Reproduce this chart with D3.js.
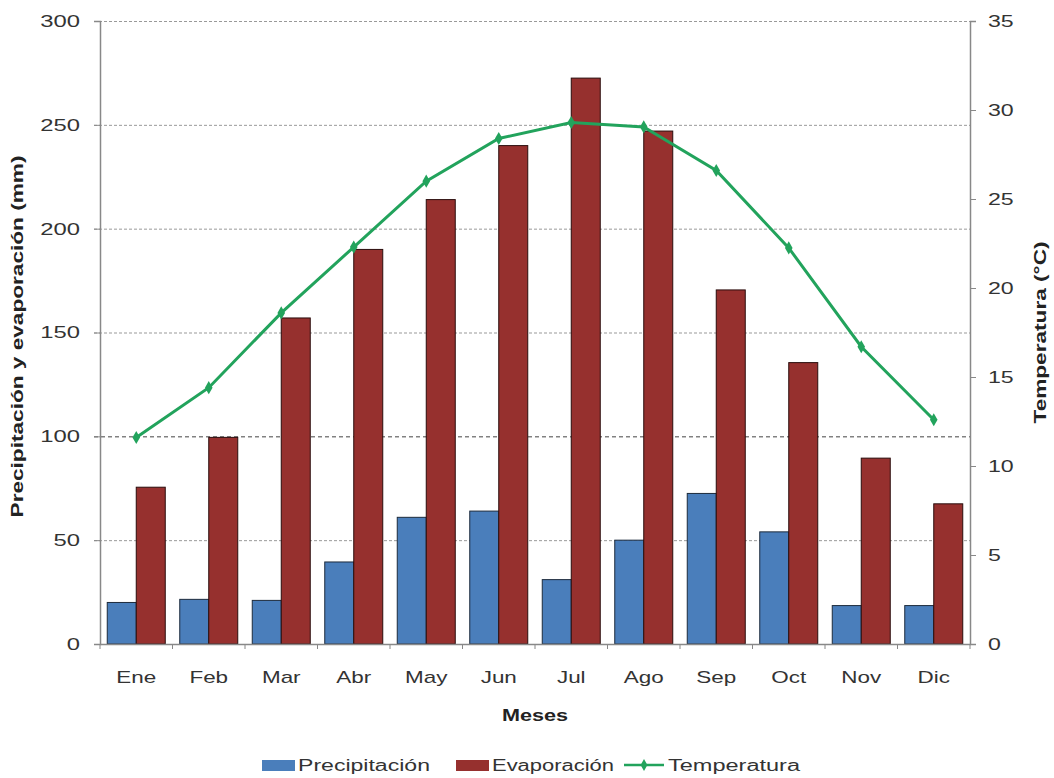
<!DOCTYPE html>
<html>
<head>
<meta charset="utf-8">
<script src="https://cdn.jsdelivr.net/npm/d3@7"></script>
<style>
  html, body { margin: 0; padding: 0; background: #fff; }
  svg { display: block; font-family: "Liberation Sans", Arial, sans-serif; }
</style>
</head>
<body>
<svg id="chart" width="1054" height="778"></svg>
<script>
// Monthly climate data
const months = ["Ene", "Feb", "Mar", "Abr", "May", "Jun", "Jul", "Ago", "Sep", "Oct", "Nov", "Dic"];
const precipitacion = [20, 21.5, 21, 39.5, 61, 64, 31, 50, 72.5, 54, 18.5, 18.5];
const evaporacion = [75.5, 99.5, 157, 190, 214, 240, 272.5, 247, 170.5, 135.5, 89.5, 67.5];
const temperatura = [11.6, 14.4, 18.6, 22.3, 26.0, 28.4, 29.3, 29.05, 26.6, 22.25, 16.7, 12.6];
const leftTicks = [0, 50, 100, 150, 200, 250, 300];
const rightTicks = [0, 5, 10, 15, 20, 25, 30, 35];

const svg = d3.select("#chart");
const plot = { left: 100, right: 970, top: 21, bottom: 644 };

const x = d3.scaleBand().domain(months).range([plot.left, plot.right]).paddingInner(0).paddingOuter(0);
const yL = d3.scaleLinear().domain([0, 300]).range([plot.bottom, plot.top]);
const yR = d3.scaleLinear().domain([0, 35]).range([plot.bottom, plot.top]);

const colPrec = "#4a7ebb";
const colEvap = "#96302e";
const colTemp = "#22a35c";
const textCol = "#333";

// Widen a text element horizontally (the chart uses a wide lettering)
function widen(sel, factor) {
  sel.each(function () {
    const len = this.getComputedTextLength();
    d3.select(this).attr("textLength", len * factor).attr("lengthAdjust", "spacingAndGlyphs");
  });
}

// Horizontal gridlines from the left axis
svg.append("g").selectAll("line")
  .data(leftTicks.filter(d => d > 0))
  .join("line")
  .attr("x1", plot.left - 6).attr("x2", plot.right)
  .attr("y1", d => yL(d) + 0.5).attr("y2", d => yL(d) + 0.5)
  .attr("stroke", d => d === 100 ? "#444" : "#999")
  .attr("stroke-width", 1)
  .attr("stroke-dasharray", d => d === 100 ? "4,3" : "3,2");

// Bars
const inner = d3.scaleBand().domain(["p", "e"]).range([0, x.bandwidth()]).paddingInner(0).paddingOuter(0.25);
const groups = svg.append("g").selectAll("g")
  .data(months.map((m, i) => ({ m, p: precipitacion[i], e: evaporacion[i] })))
  .join("g")
  .attr("transform", d => `translate(${x(d.m)},0)`);

groups.append("rect")
  .attr("x", inner("p")).attr("width", inner.bandwidth())
  .attr("y", d => yL(d.p)).attr("height", d => yL(0) - yL(d.p))
  .attr("fill", colPrec).attr("stroke", "#1d2b3c").attr("stroke-width", 1);

groups.append("rect")
  .attr("x", inner("e")).attr("width", inner.bandwidth())
  .attr("y", d => yL(d.e)).attr("height", d => yL(0) - yL(d.e))
  .attr("fill", colEvap).attr("stroke", "#2a0d0d").attr("stroke-width", 1);

// Axes
const axisCol = "#888";
const gL = svg.append("g").attr("transform", `translate(${plot.left},0)`)
  .call(d3.axisLeft(yL).tickValues(leftTicks).tickSize(6).tickPadding(14));
const gR = svg.append("g").attr("transform", `translate(${plot.right},0)`)
  .call(d3.axisRight(yR).tickValues(rightTicks).tickSize(6).tickPadding(12));
const gB = svg.append("g").attr("transform", `translate(0,${plot.bottom})`)
  .call(d3.axisBottom(x).tickSize(0).tickPadding(27));

[gL, gR, gB].forEach(g => {
  g.select(".domain").attr("stroke", axisCol).attr("stroke-width", 1.5);
  g.selectAll(".tick line").attr("stroke", axisCol);
  g.selectAll(".tick text").attr("fill", textCol).style("font-size", "17px");
});
gL.selectAll(".tick text").call(widen, 1.4);
gR.selectAll(".tick text").call(widen, 1.36);
gB.selectAll(".tick text").call(widen, 1.32);

// Category separator ticks on the x axis
svg.append("g").selectAll("line")
  .data(d3.range(months.length + 1))
  .join("line")
  .attr("x1", i => plot.left + i * x.step()).attr("x2", i => plot.left + i * x.step())
  .attr("y1", plot.bottom).attr("y2", plot.bottom + 5)
  .attr("stroke", axisCol);

// Temperature line with markers
const line = d3.line()
  .x((d, i) => x(months[i]) + x.bandwidth() / 2)
  .y(d => yR(d));

svg.append("path")
  .datum(temperatura)
  .attr("d", line)
  .attr("fill", "none")
  .attr("stroke", colTemp)
  .attr("stroke-width", 3);

const diamond = d3.symbol().type(d3.symbolDiamond).size(50);
svg.append("g").selectAll("path")
  .data(temperatura)
  .join("path")
  .attr("d", diamond)
  .attr("transform", (d, i) => `translate(${x(months[i]) + x.bandwidth() / 2},${yR(d)})`)
  .attr("fill", colTemp);

// Axis titles
svg.append("text")
  .attr("transform", `translate(23,${(plot.top + plot.bottom) / 2 + 4}) rotate(-90)`)
  .attr("text-anchor", "middle")
  .attr("font-weight", "bold").attr("font-size", "17px").attr("fill", "#222")
  .text("Precipitación y evaporación (mm)")
  .call(widen, 1.33);

svg.append("text")
  .attr("transform", `translate(1046,${(plot.top + plot.bottom) / 2}) rotate(-90)`)
  .attr("text-anchor", "middle")
  .attr("font-weight", "bold").attr("font-size", "17px").attr("fill", "#222")
  .text("Temperatura (°C)")
  .call(widen, 1.33);

svg.append("text")
  .attr("x", (plot.left + plot.right) / 2).attr("y", 721)
  .attr("text-anchor", "middle")
  .attr("font-weight", "bold").attr("font-size", "16px").attr("fill", "#222")
  .text("Meses")
  .call(widen, 1.35);

// Legend
const legendY = 765;
const legend = svg.append("g");
const items = [
  { label: "Precipitación", type: "rect", color: colPrec, x: 262, textWidth: 132 },
  { label: "Evaporación", type: "rect", color: colEvap, x: 456, textWidth: 122 },
  { label: "Temperatura", type: "line", color: colTemp, x: 624, textWidth: 132 }
];
items.forEach(it => {
  const g = legend.append("g").attr("transform", `translate(${it.x},${legendY})`);
  if (it.type === "rect") {
    g.append("rect").attr("x", 0).attr("y", -5).attr("width", 33).attr("height", 11).attr("fill", it.color);
  } else {
    g.append("line").attr("x1", 0).attr("x2", 40).attr("y1", 0).attr("y2", 0)
      .attr("stroke", it.color).attr("stroke-width", 2.5);
    g.append("path").attr("d", d3.symbol().type(d3.symbolDiamond).size(40)())
      .attr("transform", "translate(20,0)").attr("fill", it.color);
  }
  g.append("text").attr("x", it.type === "rect" ? 36 : 44).attr("y", 6)
    .attr("font-size", "16px").attr("fill", textCol)
    .attr("textLength", it.textWidth).attr("lengthAdjust", "spacingAndGlyphs")
    .text(it.label);
});
</script>
</body>
</html>
